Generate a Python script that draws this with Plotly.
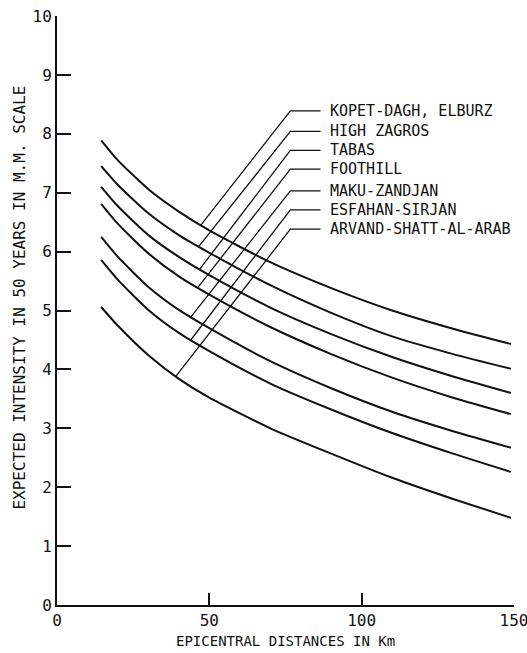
import numpy as np
import plotly.graph_objects as go

# ---- data ----
distance_km = [14.5, 20, 30, 40, 50, 70, 90, 110, 130, 149]
kopet_dagh_elburz = [7.89, 7.55, 7.06, 6.68, 6.36, 5.82, 5.38, 5.00, 4.69, 4.43]
high_zagros = [7.45, 7.13, 6.65, 6.28, 5.98, 5.43, 4.96, 4.56, 4.26, 4.01]
tabas = [7.10, 6.77, 6.28, 5.91, 5.60, 5.05, 4.60, 4.21, 3.88, 3.60]
foothill = [6.81, 6.47, 5.97, 5.58, 5.27, 4.72, 4.26, 3.86, 3.52, 3.24]
maku_zandjan = [6.25, 5.91, 5.40, 5.01, 4.70, 4.14, 3.68, 3.28, 2.95, 2.67]
esfahan_sirjan = [5.86, 5.52, 5.01, 4.62, 4.31, 3.76, 3.32, 2.92, 2.57, 2.26]
arvand_shatt_al_arab = [5.06, 4.74, 4.24, 3.84, 3.52, 3.00, 2.57, 2.16, 1.80, 1.48]

region_names = ["KOPET-DAGH, ELBURZ", "HIGH ZAGROS", "TABAS", "FOOTHILL",
                "MAKU-ZANDJAN", "ESFAHAN-SIRJAN", "ARVAND-SHATT-AL-ARAB"]
series = [kopet_dagh_elburz, high_zagros, tabas, foothill,
          maku_zandjan, esfahan_sirjan, arvand_shatt_al_arab]

x_ticks = [0, 50, 100, 150]
y_ticks = list(range(0, 11))

# ---- label / leader layout (positions) ----
label_y = [8.39, 8.04, 7.72, 7.40, 7.03, 6.71, 6.38]
leader_target_x = [47.2, 46.5, 46.8, 46.2, 43.9, 43.9, 39.0]
leader_corner_x = 76.6
leader_end_x = 86.5
label_text_x = 89.0

FONT = "DejaVu Sans Mono"
INK = "#111111"

fig = go.Figure()

for name, vals in zip(region_names, series):
    fig.add_trace(go.Scatter(
        x=distance_km, y=vals, mode="lines", name=name,
        line=dict(color=INK, width=2, shape="spline", smoothing=0.6),
        showlegend=False, hoverinfo="skip"))

for name, vals, ly, tx in zip(region_names, series, label_y, leader_target_x):
    ty = float(np.interp(tx, distance_km, vals))
    fig.add_trace(go.Scatter(
        x=[tx, leader_corner_x, leader_end_x], y=[ty, ly, ly], mode="lines",
        line=dict(color=INK, width=1.3), showlegend=False, hoverinfo="skip"))
    fig.add_annotation(x=label_text_x, y=ly, text=name, showarrow=False,
                       xanchor="left", yanchor="middle",
                       font=dict(family=FONT, size=15, color=INK))

fig.add_annotation(xref="paper", yref="paper", x=0.5, y=-0.061,
                   xanchor="center", yanchor="middle", showarrow=False,
                   text="EPICENTRAL DISTANCES IN Km",
                   font=dict(family=FONT, size=14, color=INK))
fig.add_annotation(xref="paper", yref="paper", x=-0.081, y=0.522,
                   xanchor="center", yanchor="middle", showarrow=False,
                   textangle=-90,
                   text="EXPECTED INTENSITY IN 50 YEARS IN M.M. SCALE",
                   font=dict(family=FONT, size=16, color=INK))

fig.update_layout(
    template="none",
    width=527, height=653, autosize=False,
    margin=dict(l=57, r=13, t=16, b=48, autoexpand=False),
    paper_bgcolor="white", plot_bgcolor="white",
    font=dict(family=FONT, size=15, color=INK),
    xaxis=dict(range=[0, 150], tickvals=x_ticks, ticktext=[str(v) for v in x_ticks],
               automargin=False,
               showgrid=False, zeroline=False, showline=True, linewidth=2,
               linecolor=INK, ticks="inside", ticklen=12, tickwidth=1.5,
               tickcolor=INK, ticklabeloverflow="allow",
               tickfont=dict(family=FONT, size=16, color=INK)),
    yaxis=dict(range=[0, 10], tickvals=y_ticks, ticktext=[str(v) for v in y_ticks],
               automargin=False,
               showgrid=False, zeroline=False, showline=True, linewidth=2,
               linecolor=INK, ticks="inside", ticklen=14, tickwidth=1.5,
               tickcolor=INK, ticklabeloverflow="allow",
               tickfont=dict(family=FONT, size=16, color=INK)),
)

fig.write_html("out.html", config={"displayModeBar": False},
               post_script="document.body.style.margin='0';document.body.style.overflow='hidden';")
